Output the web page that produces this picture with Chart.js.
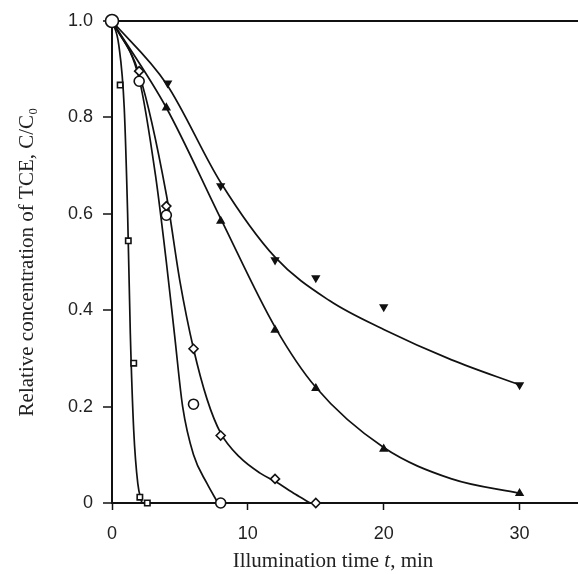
<!DOCTYPE html>
<html>
<head>
<meta charset="utf-8">
<script src="https://cdn.jsdelivr.net/npm/chart.js@4.4.1/dist/chart.umd.min.js"></script>
<style>
  html, body { margin: 0; padding: 0; background: #fff; overflow: hidden; }
  canvas { display: block; }
</style>
</head>
<body>
<canvas id="tceChart" width="578" height="574"></canvas>
<script>
// measured points (time in min, C/C0)
const startT = [0];
const startC = [1.0];

const squareT = [0.6, 1.2, 1.6, 2.05, 2.6];
const squareC = [0.867, 0.544, 0.29, 0.012, 0.0];

const circleT = [2, 4, 6, 8];
const circleC = [0.875, 0.597, 0.205, 0.0];

const diamondT = [2, 4, 6, 8, 12, 15];
const diamondC = [0.896, 0.616, 0.32, 0.14, 0.05, 0.0];

const triUpT = [4, 8, 12, 15, 20, 30];
const triUpC = [0.82, 0.585, 0.359, 0.238, 0.112, 0.02];

const triDownT = [4.1, 8, 12, 15, 20, 30];
const triDownC = [0.871, 0.658, 0.504, 0.467, 0.407, 0.245];

// fitted curves
const fitSquareT = [0, 0.5, 0.9, 1.15, 1.35, 1.6, 1.9, 2.2];
const fitSquareC = [1, 0.95, 0.82, 0.6, 0.35, 0.15, 0.04, 0];

const fitCircleT = [0, 2, 3.2, 4.0, 4.6, 5.2, 6.0, 7.0, 7.8];
const fitCircleC = [1, 0.88, 0.68, 0.5, 0.35, 0.2, 0.1, 0.04, 0];

const fitDiamondT = [0, 2, 4, 5, 6, 7, 8, 9.4, 10.9, 12, 13.5, 14.6];
const fitDiamondC = [1, 0.89, 0.64, 0.46, 0.32, 0.215, 0.145, 0.095, 0.062, 0.045, 0.018, 0];

const fitUpT = [0, 4, 8, 12, 15, 20, 25, 30];
const fitUpC = [1, 0.82, 0.59, 0.365, 0.24, 0.115, 0.05, 0.02];

const fitDownT = [0, 4, 8, 12, 16, 20, 25, 30];
const fitDownC = [1, 0.87, 0.665, 0.51, 0.42, 0.36, 0.297, 0.245];

const xTicks = [0, 10, 20, 30];
const yTicks = [0, 0.2, 0.4, 0.6, 0.8, 1.0];

function pts(xs, ys) {
    return xs.map((x, i) => ({ x: x, y: ys[i] }));
}

function markers(xs, ys, style, radius, fill, rotation) {
    return {
        data: pts(xs, ys),
        showLine: false,
        clip: false,
        pointStyle: style,
        pointRadius: radius,
        pointRotation: rotation || 0,
        pointBackgroundColor: fill,
        pointBorderColor: '#111',
        pointBorderWidth: 1.6
    };
}

function curve(xs, ys) {
    return {
        data: pts(xs, ys),
        showLine: true,
        borderColor: '#111',
        borderWidth: 1.7,
        pointRadius: 0,
        cubicInterpolationMode: 'monotone',
        fill: false
    };
}

// x axis title drawn by hand so the italic t can be kept
const xTitlePlugin = {
    id: 'xTitle',
    afterDraw(chart) {
        const ctx = chart.ctx;
        ctx.save();
        ctx.fillStyle = '#222';
        ctx.textBaseline = 'alphabetic';
        const a = 'Illumination time ';
        const b = 't';
        const c = ', min';
        const f = '21px "Liberation Serif"';
        const fi = 'italic 21px "Liberation Serif"';
        ctx.font = f;
        const wa = ctx.measureText(a).width;
        const wc = ctx.measureText(c).width;
        ctx.font = fi;
        const wb = ctx.measureText(b).width;
        let x = 333 - (wa + wb + wc) / 2;
        const y = 567;
        ctx.font = f;
        ctx.fillText(a, x, y);
        x += wa;
        ctx.font = fi;
        ctx.fillText(b, x, y);
        x += wb;
        ctx.font = f;
        ctx.fillText(c, x, y);
        ctx.restore();
    }
};

const ctx = document.getElementById('tceChart').getContext('2d');
new Chart(ctx, {
    type: 'scatter',
    data: {
        datasets: [
            markers(startT, startC, 'circle', 6.5, '#fff'),
            markers(squareT, squareC, 'rect', 3.8, '#fff'),
            markers(circleT, circleC, 'circle', 5, '#fff'),
            markers(diamondT, diamondC, 'rectRot', 4.5, '#fff'),
            markers(triUpT, triUpC, 'triangle', 3.8, '#111'),
            markers(triDownT, triDownC, 'triangle', 3.8, '#111', 180),
            curve(fitSquareT, fitSquareC),
            curve(fitCircleT, fitCircleC),
            curve(fitDiamondT, fitDiamondC),
            curve(fitUpT, fitUpC),
            curve(fitDownT, fitDownC)
        ]
    },
    options: {
        responsive: false,
        animation: false,
        layout: { autoPadding: false, padding: { top: 21, right: 0, left: 0, bottom: 0 } },
        plugins: {
            legend: { display: false },
            tooltip: { enabled: false }
        },
        scales: {
            x: {
                type: 'linear',
                min: 0,
                max: 34.3,
                afterBuildTicks: scale => { scale.ticks = xTicks.map(v => ({ value: v })); },
                afterFit: scale => {
                    scale.height = 71;
                    scale.paddingRight = 0;
                    scale.paddingLeft = 0;
                },
                border: { display: true, color: '#111', width: 2 },
                grid: { drawOnChartArea: false, drawTicks: true, tickLength: 7, tickColor: '#111', tickWidth: 1.5 },
                ticks: {
                    color: '#222',
                    padding: 13,
                    maxRotation: 0,
                    font: { family: 'Liberation Sans', size: 18 }
                },
                title: { display: false }
            },
            y: {
                min: 0,
                max: 1.0,
                afterBuildTicks: scale => { scale.ticks = yTicks.map(v => ({ value: v })); },
                afterFit: scale => { scale.width = 112; },
                border: { display: true, color: '#111', width: 2 },
                grid: {
                    drawOnChartArea: true,
                    color: c => (c.tick && c.tick.value === 1.0 ? '#111' : 'rgba(0,0,0,0)'),
                    lineWidth: 2,
                    drawTicks: true,
                    tickLength: 9,
                    tickColor: '#111',
                    tickWidth: 1.5
                },
                ticks: {
                    color: '#222',
                    padding: 10,
                    font: { family: 'Liberation Sans', size: 18 },
                    callback: v => (v === 0 ? '0' : v.toFixed(1))
                },
                title: {
                    display: true,
                    text: 'Relative concentration of TCE, C/C\u2080',
                    color: '#222',
                    padding: { top: 15, bottom: 0 },
                    font: { family: 'Liberation Serif', size: 21 }
                }
            }
        }
    },
    plugins: [xTitlePlugin]
});
</script>
</body>
</html>
